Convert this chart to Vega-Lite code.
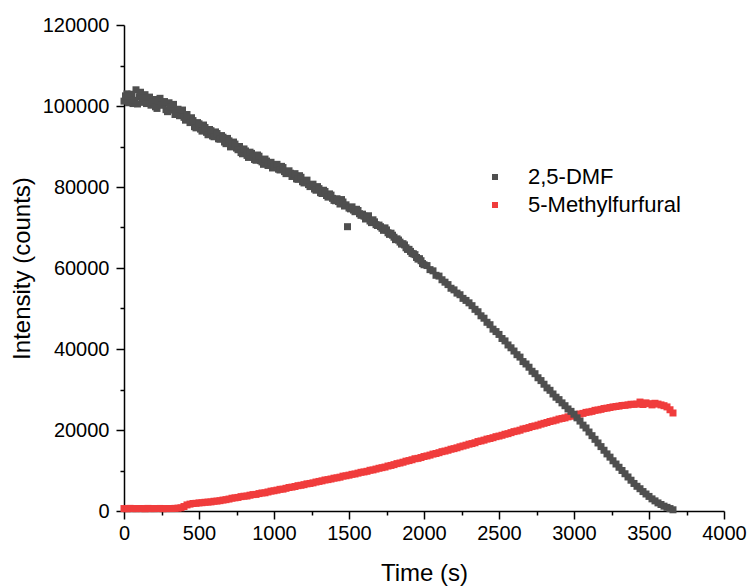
{
  "$schema": "https://vega.github.io/schema/vega-lite/v6.json",
  "width": 600,
  "height": 486,
  "autosize": "none",
  "padding": {"left": 124, "top": 25, "right": 28, "bottom": 75},
  "background": "white",
  "config": {
    "view": {"stroke": null},
    "font": "Liberation Sans"
  },
  "data": {"values": [
    {"s":"5-Methylfurfural","t":0,"v":600},{"s":"5-Methylfurfural","t":20,"v":550},{"s":"5-Methylfurfural","t":40,"v":650},{"s":"5-Methylfurfural","t":60,"v":600},{"s":"5-Methylfurfural","t":80,"v":580},{"s":"5-Methylfurfural","t":100,"v":620},{"s":"5-Methylfurfural","t":120,"v":600},{"s":"5-Methylfurfural","t":140,"v":560},{"s":"5-Methylfurfural","t":160,"v":640},{"s":"5-Methylfurfural","t":180,"v":600},{"s":"5-Methylfurfural","t":200,"v":590},{"s":"5-Methylfurfural","t":220,"v":610},{"s":"5-Methylfurfural","t":240,"v":630},{"s":"5-Methylfurfural","t":260,"v":570},{"s":"5-Methylfurfural","t":280,"v":600},{"s":"5-Methylfurfural","t":300,"v":620},{"s":"5-Methylfurfural","t":320,"v":600},{"s":"5-Methylfurfural","t":340,"v":650},{"s":"5-Methylfurfural","t":360,"v":700},{"s":"5-Methylfurfural","t":380,"v":800},
    {"s":"5-Methylfurfural","t":400,"v":1100},{"s":"5-Methylfurfural","t":420,"v":1500},{"s":"5-Methylfurfural","t":440,"v":1700},{"s":"5-Methylfurfural","t":460,"v":1850},{"s":"5-Methylfurfural","t":480,"v":1900},{"s":"5-Methylfurfural","t":500,"v":2000},{"s":"5-Methylfurfural","t":520,"v":2050},{"s":"5-Methylfurfural","t":540,"v":2150},{"s":"5-Methylfurfural","t":560,"v":2200},{"s":"5-Methylfurfural","t":580,"v":2250},{"s":"5-Methylfurfural","t":600,"v":2400},{"s":"5-Methylfurfural","t":620,"v":2450},{"s":"5-Methylfurfural","t":640,"v":2550},{"s":"5-Methylfurfural","t":660,"v":2700},{"s":"5-Methylfurfural","t":680,"v":2800},{"s":"5-Methylfurfural","t":700,"v":2950},{"s":"5-Methylfurfural","t":720,"v":3150},{"s":"5-Methylfurfural","t":740,"v":3250},{"s":"5-Methylfurfural","t":760,"v":3350},{"s":"5-Methylfurfural","t":780,"v":3550},{"s":"5-Methylfurfural","t":800,"v":3650},{"s":"5-Methylfurfural","t":820,"v":3700},{"s":"5-Methylfurfural","t":840,"v":3900},{"s":"5-Methylfurfural","t":860,"v":4050},{"s":"5-Methylfurfural","t":880,"v":4100},{"s":"5-Methylfurfural","t":900,"v":4300},{"s":"5-Methylfurfural","t":920,"v":4450},{"s":"5-Methylfurfural","t":940,"v":4500},{"s":"5-Methylfurfural","t":960,"v":4700},{"s":"5-Methylfurfural","t":980,"v":4900},
    {"s":"5-Methylfurfural","t":1000,"v":5000},{"s":"5-Methylfurfural","t":1020,"v":5150},{"s":"5-Methylfurfural","t":1040,"v":5350},{"s":"5-Methylfurfural","t":1060,"v":5400},{"s":"5-Methylfurfural","t":1080,"v":5600},{"s":"5-Methylfurfural","t":1100,"v":5800},{"s":"5-Methylfurfural","t":1120,"v":5900},{"s":"5-Methylfurfural","t":1140,"v":6050},{"s":"5-Methylfurfural","t":1160,"v":6250},{"s":"5-Methylfurfural","t":1180,"v":6350},{"s":"5-Methylfurfural","t":1200,"v":6500},{"s":"5-Methylfurfural","t":1220,"v":6700},{"s":"5-Methylfurfural","t":1240,"v":6800},{"s":"5-Methylfurfural","t":1260,"v":6950},{"s":"5-Methylfurfural","t":1280,"v":7150},{"s":"5-Methylfurfural","t":1300,"v":7300},{"s":"5-Methylfurfural","t":1320,"v":7450},{"s":"5-Methylfurfural","t":1340,"v":7650},{"s":"5-Methylfurfural","t":1360,"v":7750},{"s":"5-Methylfurfural","t":1380,"v":7900},{"s":"5-Methylfurfural","t":1400,"v":8100},{"s":"5-Methylfurfural","t":1420,"v":8200},{"s":"5-Methylfurfural","t":1440,"v":8350},{"s":"5-Methylfurfural","t":1460,"v":8600},{"s":"5-Methylfurfural","t":1480,"v":8700},{"s":"5-Methylfurfural","t":1500,"v":8850},{"s":"5-Methylfurfural","t":1520,"v":9050},{"s":"5-Methylfurfural","t":1540,"v":9150},{"s":"5-Methylfurfural","t":1560,"v":9350},{"s":"5-Methylfurfural","t":1580,"v":9550},{"s":"5-Methylfurfural","t":1600,"v":9650},{"s":"5-Methylfurfural","t":1620,"v":9800},{"s":"5-Methylfurfural","t":1640,"v":10050},{"s":"5-Methylfurfural","t":1660,"v":10150},{"s":"5-Methylfurfural","t":1680,"v":10350},{"s":"5-Methylfurfural","t":1700,"v":10550},{"s":"5-Methylfurfural","t":1720,"v":10700},{"s":"5-Methylfurfural","t":1740,"v":10850},{"s":"5-Methylfurfural","t":1760,"v":11100},{"s":"5-Methylfurfural","t":1780,"v":11250},{"s":"5-Methylfurfural","t":1800,"v":11450},{"s":"5-Methylfurfural","t":1820,"v":11700},{"s":"5-Methylfurfural","t":1840,"v":11850},{"s":"5-Methylfurfural","t":1860,"v":12050},{"s":"5-Methylfurfural","t":1880,"v":12300},{"s":"5-Methylfurfural","t":1900,"v":12450},{"s":"5-Methylfurfural","t":1920,"v":12650},{"s":"5-Methylfurfural","t":1940,"v":12900},{"s":"5-Methylfurfural","t":1960,"v":13000},{"s":"5-Methylfurfural","t":1980,"v":13200},
    {"s":"5-Methylfurfural","t":2000,"v":13450},{"s":"5-Methylfurfural","t":2020,"v":13600},{"s":"5-Methylfurfural","t":2040,"v":13800},{"s":"5-Methylfurfural","t":2060,"v":14050},{"s":"5-Methylfurfural","t":2080,"v":14200},{"s":"5-Methylfurfural","t":2100,"v":14400},{"s":"5-Methylfurfural","t":2120,"v":14650},{"s":"5-Methylfurfural","t":2140,"v":14800},{"s":"5-Methylfurfural","t":2160,"v":15000},{"s":"5-Methylfurfural","t":2180,"v":15250},{"s":"5-Methylfurfural","t":2200,"v":15400},{"s":"5-Methylfurfural","t":2220,"v":15600},{"s":"5-Methylfurfural","t":2240,"v":15850},{"s":"5-Methylfurfural","t":2260,"v":16050},{"s":"5-Methylfurfural","t":2280,"v":16250},{"s":"5-Methylfurfural","t":2300,"v":16500},{"s":"5-Methylfurfural","t":2320,"v":16650},{"s":"5-Methylfurfural","t":2340,"v":16850},{"s":"5-Methylfurfural","t":2360,"v":17150},{"s":"5-Methylfurfural","t":2380,"v":17300},{"s":"5-Methylfurfural","t":2400,"v":17500},{"s":"5-Methylfurfural","t":2420,"v":17750},{"s":"5-Methylfurfural","t":2440,"v":17900},{"s":"5-Methylfurfural","t":2460,"v":18100},{"s":"5-Methylfurfural","t":2480,"v":18350},{"s":"5-Methylfurfural","t":2500,"v":18500},{"s":"5-Methylfurfural","t":2520,"v":18700},{"s":"5-Methylfurfural","t":2540,"v":18950},{"s":"5-Methylfurfural","t":2560,"v":19100},{"s":"5-Methylfurfural","t":2580,"v":19350},{"s":"5-Methylfurfural","t":2600,"v":19600},{"s":"5-Methylfurfural","t":2620,"v":19750},{"s":"5-Methylfurfural","t":2640,"v":19950},{"s":"5-Methylfurfural","t":2660,"v":20250},{"s":"5-Methylfurfural","t":2680,"v":20400},{"s":"5-Methylfurfural","t":2700,"v":20600},{"s":"5-Methylfurfural","t":2720,"v":20850},{"s":"5-Methylfurfural","t":2740,"v":21000},{"s":"5-Methylfurfural","t":2760,"v":21200},{"s":"5-Methylfurfural","t":2780,"v":21450},{"s":"5-Methylfurfural","t":2800,"v":21650},{"s":"5-Methylfurfural","t":2820,"v":21850},{"s":"5-Methylfurfural","t":2840,"v":22100},{"s":"5-Methylfurfural","t":2860,"v":22250},{"s":"5-Methylfurfural","t":2880,"v":22450},{"s":"5-Methylfurfural","t":2900,"v":22700},{"s":"5-Methylfurfural","t":2920,"v":22850},{"s":"5-Methylfurfural","t":2940,"v":23000},{"s":"5-Methylfurfural","t":2960,"v":23250},{"s":"5-Methylfurfural","t":2980,"v":23400},
    {"s":"5-Methylfurfural","t":3000,"v":23600},{"s":"5-Methylfurfural","t":3020,"v":23800},{"s":"5-Methylfurfural","t":3040,"v":23950},{"s":"5-Methylfurfural","t":3060,"v":24100},{"s":"5-Methylfurfural","t":3080,"v":24350},{"s":"5-Methylfurfural","t":3100,"v":24450},{"s":"5-Methylfurfural","t":3120,"v":24600},{"s":"5-Methylfurfural","t":3140,"v":24850},{"s":"5-Methylfurfural","t":3160,"v":24950},{"s":"5-Methylfurfural","t":3180,"v":25100},{"s":"5-Methylfurfural","t":3200,"v":25300},{"s":"5-Methylfurfural","t":3220,"v":25400},{"s":"5-Methylfurfural","t":3240,"v":25550},{"s":"5-Methylfurfural","t":3260,"v":25700},{"s":"5-Methylfurfural","t":3280,"v":25800},{"s":"5-Methylfurfural","t":3300,"v":25900},{"s":"5-Methylfurfural","t":3320,"v":26050},{"s":"5-Methylfurfural","t":3340,"v":26100},{"s":"5-Methylfurfural","t":3360,"v":26200},{"s":"5-Methylfurfural","t":3380,"v":26350},{"s":"5-Methylfurfural","t":3400,"v":26350},{"s":"5-Methylfurfural","t":3420,"v":26400},{"s":"5-Methylfurfural","t":3440,"v":26900},{"s":"5-Methylfurfural","t":3460,"v":26300},{"s":"5-Methylfurfural","t":3480,"v":26700},{"s":"5-Methylfurfural","t":3500,"v":26500},{"s":"5-Methylfurfural","t":3520,"v":26200},{"s":"5-Methylfurfural","t":3540,"v":26600},{"s":"5-Methylfurfural","t":3560,"v":26400},{"s":"5-Methylfurfural","t":3580,"v":26200},{"s":"5-Methylfurfural","t":3600,"v":26000},{"s":"5-Methylfurfural","t":3620,"v":25700},{"s":"5-Methylfurfural","t":3640,"v":25000},{"s":"5-Methylfurfural","t":3660,"v":24200},
    {"s":"2,5-DMF","t":0,"v":101200},{"s":"2,5-DMF","t":20,"v":103000},{"s":"2,5-DMF","t":40,"v":101800},{"s":"2,5-DMF","t":60,"v":100600},{"s":"2,5-DMF","t":80,"v":104000},{"s":"2,5-DMF","t":100,"v":102300},{"s":"2,5-DMF","t":120,"v":100900},{"s":"2,5-DMF","t":140,"v":102800},{"s":"2,5-DMF","t":160,"v":101500},{"s":"2,5-DMF","t":180,"v":100200},{"s":"2,5-DMF","t":200,"v":101600},{"s":"2,5-DMF","t":220,"v":99400},{"s":"2,5-DMF","t":240,"v":101900},{"s":"2,5-DMF","t":260,"v":100300},{"s":"2,5-DMF","t":280,"v":99100},{"s":"2,5-DMF","t":300,"v":100800},{"s":"2,5-DMF","t":320,"v":99000},{"s":"2,5-DMF","t":340,"v":97900},{"s":"2,5-DMF","t":360,"v":99200},{"s":"2,5-DMF","t":380,"v":98400},
    {"s":"2,5-DMF","t":10,"v":102500},{"s":"2,5-DMF","t":30,"v":100800},{"s":"2,5-DMF","t":50,"v":102900},{"s":"2,5-DMF","t":70,"v":101400},{"s":"2,5-DMF","t":90,"v":100500},{"s":"2,5-DMF","t":110,"v":103400},{"s":"2,5-DMF","t":130,"v":101900},{"s":"2,5-DMF","t":150,"v":100600},{"s":"2,5-DMF","t":170,"v":102200},{"s":"2,5-DMF","t":190,"v":100900},{"s":"2,5-DMF","t":210,"v":99800},{"s":"2,5-DMF","t":230,"v":101300},{"s":"2,5-DMF","t":250,"v":100200},{"s":"2,5-DMF","t":270,"v":101100},{"s":"2,5-DMF","t":290,"v":98600},{"s":"2,5-DMF","t":310,"v":99700},{"s":"2,5-DMF","t":330,"v":100400},{"s":"2,5-DMF","t":350,"v":98300},{"s":"2,5-DMF","t":370,"v":97600},{"s":"2,5-DMF","t":390,"v":99000},
    {"s":"2,5-DMF","t":410,"v":96500},{"s":"2,5-DMF","t":430,"v":96900},{"s":"2,5-DMF","t":450,"v":97100},{"s":"2,5-DMF","t":470,"v":94900},{"s":"2,5-DMF","t":490,"v":95900},{"s":"2,5-DMF","t":510,"v":94300},{"s":"2,5-DMF","t":530,"v":95300},{"s":"2,5-DMF","t":550,"v":93500},{"s":"2,5-DMF","t":570,"v":94200},{"s":"2,5-DMF","t":590,"v":92600},{"s":"2,5-DMF","t":610,"v":93600},{"s":"2,5-DMF","t":630,"v":91900},{"s":"2,5-DMF","t":650,"v":92700},{"s":"2,5-DMF","t":670,"v":91100},{"s":"2,5-DMF","t":690,"v":92000},{"s":"2,5-DMF","t":710,"v":89900},{"s":"2,5-DMF","t":730,"v":91100},{"s":"2,5-DMF","t":750,"v":89600},{"s":"2,5-DMF","t":770,"v":90000},{"s":"2,5-DMF","t":790,"v":88200},{"s":"2,5-DMF","t":810,"v":88900},{"s":"2,5-DMF","t":830,"v":87300},{"s":"2,5-DMF","t":850,"v":88300},{"s":"2,5-DMF","t":870,"v":86800},{"s":"2,5-DMF","t":890,"v":87900},{"s":"2,5-DMF","t":910,"v":86500},{"s":"2,5-DMF","t":930,"v":85600},{"s":"2,5-DMF","t":950,"v":86400},{"s":"2,5-DMF","t":970,"v":85900},{"s":"2,5-DMF","t":990,"v":84700},
    {"s":"2,5-DMF","t":1010,"v":85300},{"s":"2,5-DMF","t":1030,"v":84400},{"s":"2,5-DMF","t":1050,"v":85100},{"s":"2,5-DMF","t":1070,"v":83800},{"s":"2,5-DMF","t":1090,"v":83500},{"s":"2,5-DMF","t":1110,"v":83400},{"s":"2,5-DMF","t":1130,"v":82900},{"s":"2,5-DMF","t":1150,"v":82000},{"s":"2,5-DMF","t":1170,"v":82800},{"s":"2,5-DMF","t":1190,"v":81300},{"s":"2,5-DMF","t":1210,"v":81400},{"s":"2,5-DMF","t":1230,"v":80600},{"s":"2,5-DMF","t":1250,"v":80200},{"s":"2,5-DMF","t":1270,"v":79500},{"s":"2,5-DMF","t":1290,"v":80100},{"s":"2,5-DMF","t":1310,"v":78600},{"s":"2,5-DMF","t":1330,"v":79200},{"s":"2,5-DMF","t":1350,"v":77900},{"s":"2,5-DMF","t":1370,"v":78300},{"s":"2,5-DMF","t":1390,"v":77200},{"s":"2,5-DMF","t":1410,"v":76600},{"s":"2,5-DMF","t":1430,"v":76400},{"s":"2,5-DMF","t":1450,"v":76900},{"s":"2,5-DMF","t":1470,"v":75300},{"s":"2,5-DMF","t":1510,"v":74600},{"s":"2,5-DMF","t":1530,"v":74300},{"s":"2,5-DMF","t":1550,"v":74500},{"s":"2,5-DMF","t":1570,"v":73400},{"s":"2,5-DMF","t":1590,"v":73300},{"s":"2,5-DMF","t":1610,"v":72100},{"s":"2,5-DMF","t":1630,"v":72900},{"s":"2,5-DMF","t":1650,"v":71200},{"s":"2,5-DMF","t":1670,"v":71400},{"s":"2,5-DMF","t":1690,"v":70500},{"s":"2,5-DMF","t":1710,"v":70200},{"s":"2,5-DMF","t":1730,"v":69300},{"s":"2,5-DMF","t":1750,"v":69400},{"s":"2,5-DMF","t":1770,"v":68300},{"s":"2,5-DMF","t":1790,"v":68100},{"s":"2,5-DMF","t":1810,"v":67000},{"s":"2,5-DMF","t":1830,"v":66900},{"s":"2,5-DMF","t":1850,"v":65900},{"s":"2,5-DMF","t":1870,"v":65700},{"s":"2,5-DMF","t":1890,"v":64600},{"s":"2,5-DMF","t":1910,"v":64100},{"s":"2,5-DMF","t":1930,"v":63500},{"s":"2,5-DMF","t":1950,"v":62600},{"s":"2,5-DMF","t":1970,"v":62300},{"s":"2,5-DMF","t":1990,"v":61100},
    {"s":"2,5-DMF","t":400,"v":97200},{"s":"2,5-DMF","t":420,"v":97900},{"s":"2,5-DMF","t":440,"v":95900},{"s":"2,5-DMF","t":460,"v":96400},{"s":"2,5-DMF","t":480,"v":94600},{"s":"2,5-DMF","t":500,"v":95600},{"s":"2,5-DMF","t":520,"v":93800},{"s":"2,5-DMF","t":540,"v":94700},{"s":"2,5-DMF","t":560,"v":92900},{"s":"2,5-DMF","t":580,"v":93900},{"s":"2,5-DMF","t":600,"v":92400},{"s":"2,5-DMF","t":620,"v":93200},{"s":"2,5-DMF","t":640,"v":91800},{"s":"2,5-DMF","t":660,"v":92300},{"s":"2,5-DMF","t":680,"v":90700},{"s":"2,5-DMF","t":700,"v":91400},{"s":"2,5-DMF","t":720,"v":90100},{"s":"2,5-DMF","t":740,"v":90600},{"s":"2,5-DMF","t":760,"v":89200},{"s":"2,5-DMF","t":780,"v":88500},{"s":"2,5-DMF","t":800,"v":89400},{"s":"2,5-DMF","t":820,"v":87800},{"s":"2,5-DMF","t":840,"v":88600},{"s":"2,5-DMF","t":860,"v":87400},{"s":"2,5-DMF","t":880,"v":86600},{"s":"2,5-DMF","t":900,"v":87600},{"s":"2,5-DMF","t":920,"v":86200},{"s":"2,5-DMF","t":940,"v":86900},{"s":"2,5-DMF","t":960,"v":85300},{"s":"2,5-DMF","t":980,"v":86100},
    {"s":"2,5-DMF","t":1000,"v":84900},{"s":"2,5-DMF","t":1020,"v":85600},{"s":"2,5-DMF","t":1040,"v":84200},{"s":"2,5-DMF","t":1060,"v":84800},{"s":"2,5-DMF","t":1080,"v":83300},{"s":"2,5-DMF","t":1100,"v":84000},{"s":"2,5-DMF","t":1120,"v":82600},{"s":"2,5-DMF","t":1140,"v":83300},{"s":"2,5-DMF","t":1160,"v":81900},{"s":"2,5-DMF","t":1180,"v":82400},{"s":"2,5-DMF","t":1200,"v":81000},{"s":"2,5-DMF","t":1220,"v":81700},{"s":"2,5-DMF","t":1240,"v":80100},{"s":"2,5-DMF","t":1260,"v":80700},{"s":"2,5-DMF","t":1280,"v":79200},{"s":"2,5-DMF","t":1300,"v":79600},{"s":"2,5-DMF","t":1320,"v":78400},{"s":"2,5-DMF","t":1340,"v":78900},{"s":"2,5-DMF","t":1360,"v":77500},{"s":"2,5-DMF","t":1380,"v":78000},{"s":"2,5-DMF","t":1400,"v":76700},{"s":"2,5-DMF","t":1420,"v":77100},{"s":"2,5-DMF","t":1440,"v":75800},{"s":"2,5-DMF","t":1460,"v":76300},{"s":"2,5-DMF","t":1480,"v":75600},{"s":"2,5-DMF","t":1490,"v":70200},{"s":"2,5-DMF","t":1500,"v":74800},{"s":"2,5-DMF","t":1520,"v":75100},{"s":"2,5-DMF","t":1540,"v":73900},{"s":"2,5-DMF","t":1560,"v":74200},{"s":"2,5-DMF","t":1580,"v":73000},{"s":"2,5-DMF","t":1600,"v":72800},{"s":"2,5-DMF","t":1620,"v":72600},{"s":"2,5-DMF","t":1640,"v":71600},{"s":"2,5-DMF","t":1660,"v":71900},{"s":"2,5-DMF","t":1680,"v":70700},{"s":"2,5-DMF","t":1700,"v":70600},{"s":"2,5-DMF","t":1720,"v":69800},{"s":"2,5-DMF","t":1740,"v":69900},{"s":"2,5-DMF","t":1760,"v":68700},{"s":"2,5-DMF","t":1780,"v":68600},{"s":"2,5-DMF","t":1800,"v":67600},{"s":"2,5-DMF","t":1820,"v":67200},{"s":"2,5-DMF","t":1840,"v":66400},{"s":"2,5-DMF","t":1860,"v":66000},{"s":"2,5-DMF","t":1880,"v":65000},{"s":"2,5-DMF","t":1900,"v":64600},{"s":"2,5-DMF","t":1920,"v":63600},{"s":"2,5-DMF","t":1940,"v":63300},{"s":"2,5-DMF","t":1960,"v":62200},{"s":"2,5-DMF","t":1980,"v":61800},
    {"s":"2,5-DMF","t":2000,"v":60800},{"s":"2,5-DMF","t":2020,"v":60600},{"s":"2,5-DMF","t":2040,"v":59600},{"s":"2,5-DMF","t":2060,"v":59300},{"s":"2,5-DMF","t":2080,"v":58200},{"s":"2,5-DMF","t":2100,"v":58000},{"s":"2,5-DMF","t":2120,"v":57100},{"s":"2,5-DMF","t":2140,"v":56500},{"s":"2,5-DMF","t":2160,"v":55900},{"s":"2,5-DMF","t":2180,"v":55000},{"s":"2,5-DMF","t":2200,"v":54600},{"s":"2,5-DMF","t":2220,"v":53800},{"s":"2,5-DMF","t":2240,"v":53400},{"s":"2,5-DMF","t":2260,"v":52500},{"s":"2,5-DMF","t":2280,"v":52000},{"s":"2,5-DMF","t":2300,"v":51400},{"s":"2,5-DMF","t":2320,"v":50700},{"s":"2,5-DMF","t":2340,"v":49800},{"s":"2,5-DMF","t":2360,"v":49200},{"s":"2,5-DMF","t":2380,"v":48200},{"s":"2,5-DMF","t":2400,"v":47600},{"s":"2,5-DMF","t":2420,"v":46600},{"s":"2,5-DMF","t":2440,"v":46000},{"s":"2,5-DMF","t":2460,"v":44900},{"s":"2,5-DMF","t":2480,"v":44300},{"s":"2,5-DMF","t":2500,"v":43600},{"s":"2,5-DMF","t":2520,"v":42600},{"s":"2,5-DMF","t":2540,"v":42000},{"s":"2,5-DMF","t":2560,"v":41000},{"s":"2,5-DMF","t":2580,"v":40300},{"s":"2,5-DMF","t":2600,"v":39500},{"s":"2,5-DMF","t":2620,"v":38600},{"s":"2,5-DMF","t":2640,"v":38000},{"s":"2,5-DMF","t":2660,"v":36900},{"s":"2,5-DMF","t":2680,"v":36300},{"s":"2,5-DMF","t":2700,"v":35500},{"s":"2,5-DMF","t":2720,"v":34500},{"s":"2,5-DMF","t":2740,"v":33900},{"s":"2,5-DMF","t":2760,"v":32900},{"s":"2,5-DMF","t":2780,"v":32200},{"s":"2,5-DMF","t":2800,"v":31300},{"s":"2,5-DMF","t":2820,"v":30400},{"s":"2,5-DMF","t":2840,"v":29800},{"s":"2,5-DMF","t":2860,"v":28900},{"s":"2,5-DMF","t":2880,"v":28100},{"s":"2,5-DMF","t":2900,"v":27500},{"s":"2,5-DMF","t":2920,"v":26700},{"s":"2,5-DMF","t":2940,"v":26000},{"s":"2,5-DMF","t":2960,"v":25200},{"s":"2,5-DMF","t":2980,"v":24600},
    {"s":"2,5-DMF","t":3000,"v":23900},{"s":"2,5-DMF","t":3020,"v":23000},{"s":"2,5-DMF","t":3040,"v":22200},{"s":"2,5-DMF","t":3060,"v":21200},{"s":"2,5-DMF","t":3080,"v":20500},{"s":"2,5-DMF","t":3100,"v":19500},{"s":"2,5-DMF","t":3120,"v":18600},{"s":"2,5-DMF","t":3140,"v":17700},{"s":"2,5-DMF","t":3160,"v":16800},{"s":"2,5-DMF","t":3180,"v":15900},{"s":"2,5-DMF","t":3200,"v":15000},{"s":"2,5-DMF","t":3220,"v":14100},{"s":"2,5-DMF","t":3240,"v":13300},{"s":"2,5-DMF","t":3260,"v":12400},{"s":"2,5-DMF","t":3280,"v":11600},{"s":"2,5-DMF","t":3300,"v":10800},{"s":"2,5-DMF","t":3320,"v":10000},{"s":"2,5-DMF","t":3340,"v":9200},{"s":"2,5-DMF","t":3360,"v":8400},{"s":"2,5-DMF","t":3380,"v":7600},{"s":"2,5-DMF","t":3400,"v":6800},{"s":"2,5-DMF","t":3420,"v":6100},{"s":"2,5-DMF","t":3440,"v":5500},{"s":"2,5-DMF","t":3460,"v":4800},{"s":"2,5-DMF","t":3480,"v":4200},{"s":"2,5-DMF","t":3500,"v":3600},{"s":"2,5-DMF","t":3520,"v":3000},{"s":"2,5-DMF","t":3540,"v":2500},{"s":"2,5-DMF","t":3560,"v":2000},{"s":"2,5-DMF","t":3580,"v":1600},{"s":"2,5-DMF","t":3600,"v":1200},{"s":"2,5-DMF","t":3620,"v":900},{"s":"2,5-DMF","t":3640,"v":600},{"s":"2,5-DMF","t":3660,"v":300}
  ]},
  "mark": {"type": "square", "size": 49, "opacity": 1, "filled": true},
  "encoding": {
    "x": {
      "field": "t", "type": "quantitative",
      "scale": {"domain": [0, 4000], "nice": false, "zero": false},
      "axis": {
        "title": "Time (s)",
        "values": [0,250,500,750,1000,1250,1500,1750,2000,2250,2500,2750,3000,3250,3500,3750,4000],
        "labelExpr": "datum.value % 500 == 0 ? datum.label : ''",
        "format": "d",
        "grid": false,
        "domainColor": "black", "domainWidth": 1.5,
        "tickColor": "black", "tickWidth": 1.5,
        "tickSize": {"condition": {"test": "datum.value % 500 == 0", "value": 8}, "value": 4},
        "labelFont": "Liberation Sans", "labelFontSize": 20, "labelColor": "black", "labelPadding": 4,
        "labelFlush": false, "labelOverlap": false,
        "titleFont": "Liberation Sans", "titleFontSize": 24, "titleFontWeight": "normal", "titleColor": "black", "titlePadding": 18
      }
    },
    "y": {
      "field": "v", "type": "quantitative",
      "scale": {"domain": [0, 120000], "nice": false},
      "axis": {
        "title": "Intensity (counts)",
        "values": [0,10000,20000,30000,40000,50000,60000,70000,80000,90000,100000,110000,120000],
        "labelExpr": "datum.value % 20000 == 0 ? datum.label : ''",
        "format": "d",
        "grid": false,
        "domainColor": "black", "domainWidth": 1.5,
        "tickColor": "black", "tickWidth": 1.5,
        "tickSize": {"condition": {"test": "datum.value % 20000 == 0", "value": 8}, "value": 4},
        "labelFont": "Liberation Sans", "labelFontSize": 20, "labelColor": "black", "labelPadding": 7,
        "labelFlush": false, "labelOverlap": false,
        "titleFont": "Liberation Sans", "titleFontSize": 24, "titleFontWeight": "normal", "titleColor": "black", "titlePadding": 8
      }
    },
    "color": {
      "field": "s", "type": "nominal",
      "scale": {"domain": ["2,5-DMF", "5-Methylfurfural"], "range": ["#4f4f4f", "#f03c3c"]},
      "legend": {
        "title": null, "orient": "none", "legendX": 360, "legendY": 141,
        "symbolType": "square", "symbolSize": 36, "symbolStrokeWidth": 0,
        "labelFont": "Liberation Sans", "labelFontSize": 22, "labelColor": "black",
        "labelOffset": 22, "rowPadding": 6, "padding": 0
      }
    }
  }
}
